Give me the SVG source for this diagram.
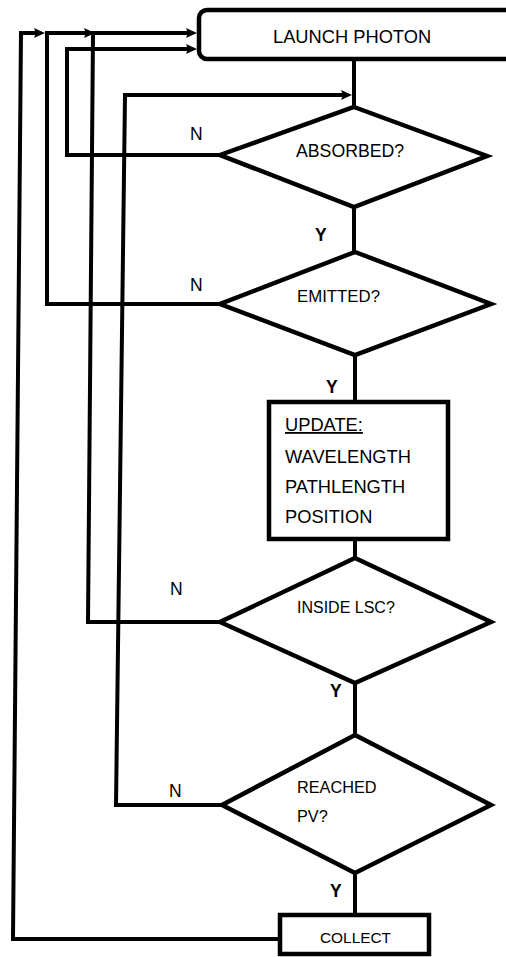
<svg xmlns="http://www.w3.org/2000/svg" width="506" height="957" viewBox="0 0 506 957">
<defs>
<style>
.shape{fill:#fff;stroke:#000;stroke-width:4.5;stroke-linejoin:miter}
.conn{fill:none;stroke:#000;stroke-width:4;stroke-linejoin:miter}
.t{font-family:"Liberation Sans",Arial,sans-serif;fill:#000}
.lbl{font-family:"Liberation Sans",Arial,sans-serif;fill:#000;font-size:17.5px}
.y{font-family:"Liberation Sans",Arial,sans-serif;fill:#000;font-size:17.5px;font-weight:bold}
</style>
<marker id="ah" viewBox="0 0 11 10" refX="5" refY="5" markerWidth="11" markerHeight="10" markerUnits="userSpaceOnUse" orient="auto">
<path d="M0,0 L11,5 L0,10 L2,5 z" fill="#000"/>
</marker>
</defs>
<rect width="506" height="957" fill="#fff"/>
<g id="connectors">
<line class="conn" x1="354" y1="59" x2="354" y2="108"/>
<line class="conn" x1="354" y1="207" x2="354" y2="252"/>
<line class="conn" x1="355" y1="355" x2="355" y2="400"/>
<line class="conn" x1="355" y1="540" x2="355" y2="558"/>
<line class="conn" x1="355" y1="683" x2="355" y2="735"/>
<line class="conn" x1="355" y1="873" x2="355" y2="914"/>
<polyline class="conn" points="220,155 67,155 67,49 191,49" marker-end="url(#ah)"/>
<polyline class="conn" points="220,304 47,304 47,33 89,33" marker-end="url(#ah)"/>
<polyline class="conn" points="220,622 88,622 93,33 191,33" marker-end="url(#ah)"/>
<polyline class="conn" points="222,805 116,805 125,95 346,95" marker-end="url(#ah)"/>
<polyline class="conn" points="279,939 13,939 21,33 39,33" marker-end="url(#ah)"/>
<text class="lbl" x="190" y="140">N</text>
<text class="lbl" x="190" y="291">N</text>
<text class="lbl" x="170" y="595">N</text>
<text class="lbl" x="169" y="797">N</text>
<text class="y" x="315" y="241">Y</text>
<text class="y" x="326" y="393">Y</text>
<text class="y" x="330" y="697">Y</text>
<text class="y" x="330" y="897">Y</text>
</g>
<g id="launch">
<rect class="shape" x="199" y="10" width="340" height="49" rx="8"/>
<text class="t" x="273" y="43" font-size="18.3">LAUNCH PHOTON</text>
</g>
<g id="absorbed">
<polygon class="shape" points="354,107 487,156 354,207 220,155"/>
<text class="t" x="296" y="157" font-size="17.7">ABSORBED?</text>
</g>
<g id="emitted">
<polygon class="shape" points="355,252 491,304 355,355 220,304"/>
<text class="t" x="297" y="302" font-size="16.8">EMITTED?</text>
</g>
<g id="update">
<rect class="shape" x="269" y="402" width="179" height="137"/>
<text class="t" x="285" y="431" font-size="18.3" text-decoration="underline">UPDATE:</text>
<text class="t" x="285" y="463" font-size="18.3">WAVELENGTH</text>
<text class="t" x="285" y="493" font-size="18.3">PATHLENGTH</text>
<text class="t" x="285" y="523" font-size="18.3">POSITION</text>
</g>
<g id="inside">
<polygon class="shape" points="355,558 491,622 355,683 220,622"/>
<text class="t" x="297" y="613" font-size="16">INSIDE LSC?</text>
</g>
<g id="reached">
<polygon class="shape" points="355,735 491,805 355,873 222,805"/>
<text class="t" x="297" y="793" font-size="16.3">REACHED</text>
<text class="t" x="297" y="822" font-size="16.3">PV?</text>
</g>
<g id="collect">
<rect class="shape" x="280" y="915" width="149" height="39"/>
<text class="t" x="320" y="943" font-size="15.4">COLLECT</text>
</g>
</svg>
